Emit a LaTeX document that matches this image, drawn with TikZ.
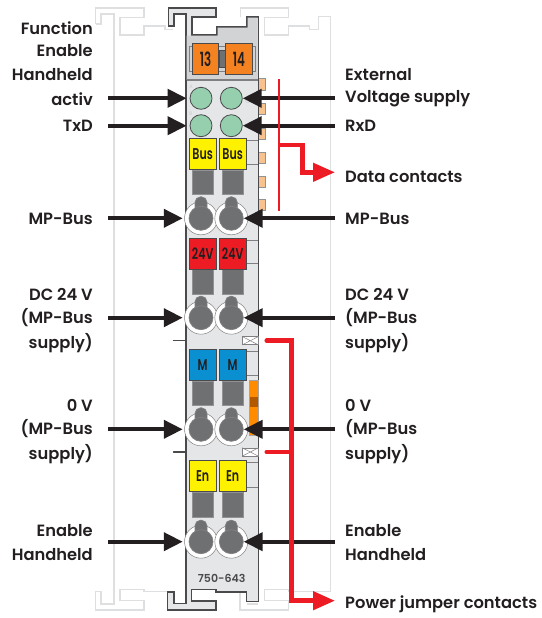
\documentclass[tikz,border=0pt]{standalone}
\usepackage{fontspec}
\setmainfont{Poppins}
\newfontfamily\lblfont{Poppins SemiBold}
\usetikzlibrary{arrows.meta}
\definecolor{bodygray}{HTML}{E5E6E8}
\definecolor{headgray}{HTML}{D2D3D5}
\definecolor{edgegray}{HTML}{4A4A4C}
\definecolor{ghostgray}{HTML}{DEDFE0}
\definecolor{squaregray}{HTML}{6F7072}
\definecolor{ledgreen}{HTML}{95CFAE}
\definecolor{tabpeach}{HTML}{F8C28E}
\definecolor{wagoorange}{HTML}{F58220}
\definecolor{busyellow}{HTML}{FFF200}
\definecolor{volred}{HTML}{ED1C24}
\definecolor{mblue}{HTML}{0A8FD0}
\definecolor{textblack}{HTML}{231F20}
\newcommand{\keytxt}[1]{\scalebox{.92}[1.3]{#1}}
\newcommand{\marktxt}[1]{\scalebox{.85}[1.4]{#1}}
\tikzset{
	lbl/.style={font=\fontsize{16.3}{18}\lblfont, text=textblack, inner sep=0pt},
	lblL/.style={lbl, anchor=east},
	lblR/.style={lbl, anchor=west},
	pointer/.style={line width=4pt, draw=textblack, -{Triangle[length=19pt,width=18pt]}},
	datared/.style={line width=4.5pt, draw=volred, line join=miter},
	ghost/.style={draw=ghostgray, line width=1.2pt},
	ledlamp/.style={circle, draw=edgegray, fill=ledgreen, line width=.8pt, minimum size=22pt, inner sep=0pt},
	ringhole/.style={circle, draw=edgegray!70, fill=white, line width=.5pt, minimum size=33pt, inner sep=0pt},
	clamphole/.style={circle, draw=edgegray!70, fill=squaregray, line width=.7pt, minimum size=24pt, inner sep=0pt},
	keybox/.style={draw=edgegray, line width=.9pt, minimum width=26.7pt, minimum height=30.7pt, inner sep=0pt, font=\fontsize{12}{12}\lblfont, text=textblack},
	squarebox/.style={draw=edgegray!60, fill=squaregray, line width=.8pt, minimum width=21.5pt, minimum height=24.5pt, inner sep=0pt},
}
\begin{document}
\begin{tikzpicture}[x=1pt,y=-1pt]
	\useasboundingbox (0,0) rectangle (541,618);
	% Ghost neighbours
	\draw[ghost] (95.7,24) -- (95.7,8) -- (144,8) -- (144,17.3) -- (120,17.3) -- (120,35) -- (144,35) -- (144,26) -- (165,26) -- (165,29.3) -- (173,29.3);
	\draw[ghost] (95.7,24) -- (101,24) -- (101,14) -- (114,14) -- (114,604) -- (101,604) -- (101,591.7) -- (95.7,591.7) -- (95.7,610) -- (144,610) -- (144,600.7) -- (120,600.7) -- (120,589.3) -- (144,589.3) -- (144,591.7) -- (168,591.7);
	\draw[ghost] (240.7,17) -- (240.7,8) -- (288.7,8) -- (288.7,17.3) -- (264.3,17.3) -- (264.3,35) -- (288.7,35) -- (288.7,26) -- (309.3,26) -- (309.3,29.3) -- (318.3,29.3) -- (318.3,16.7) -- (330.7,16.7) -- (330.7,591.7) -- (288.7,591.7) -- (288.7,589.3) -- (264.3,589.3) -- (264.3,600.7) -- (288.7,600.7) -- (288.7,610) -- (240,610) -- (240,592);
	\draw[ghost] (246.7,604) -- (258.3,604);
	% Contact tabs
	\foreach \y in {78.7,103,128,152,176,199.5}
		\draw[fill=tabpeach,draw=edgegray!60,line width=.7pt] (257,\y) rectangle ++(8,11.3);
	% Module body
	\draw[fill=bodygray,draw=edgegray,line width=1.3pt,line join=miter] (174,26) -- (168.3,26) -- (168.3,8) -- (216,8) -- (216,17) -- (192,17) -- (192,35) -- (217,35) -- (217,27) -- (247,27) -- (247,17) -- (258.3,17) -- (258.3,601.7) -- (246.7,601.7) -- (246.7,592) -- (216,592) -- (216,589.3) -- (191.7,589.3) -- (191.7,601) -- (216,601) -- (216,610) -- (167.3,610) -- (167.3,592) -- (174,592) -- (174,603.3) -- (186,603.3) -- (186,14) -- (174,14) -- cycle;
	\fill[headgray] (186.6,35.6) -- (217.6,35.6) -- (217.6,27.6) -- (247.6,27.6) -- (247.6,17.6) -- (257.7,17.6) -- (257.7,80) -- (186.6,80) -- cycle;
	\draw[edgegray!70,line width=1.2pt] (186.6,80) -- (257.7,80);
	% Marker strip
	\draw[fill=headgray,draw=edgegray!70,line width=.7pt] (189,46.7) rectangle (255.7,71);
	\draw[fill=squaregray,draw=edgegray] (218.7,50) rectangle (225.7,67);
	\node[keybox,fill=wagoorange,font=\fontsize{14}{14}\lblfont] (mark13) at (205.5,59.3) {\marktxt{13}};
	\node[keybox,fill=wagoorange,font=\fontsize{14}{14}\lblfont] (mark14) at (239,59.3) {\marktxt{14}};
	% Row lines
	\foreach \y in {140,164,240,263,351,375,462,487}
		\draw[edgegray!70,line width=.7pt] (246,\y) -- (257.7,\y);
	% Keys and squares
	\foreach \yk/\ys/\txt/\col/\nm in {153.7/182.5/Bus/busyellow/bus,253.7/281.7/24V/volred/vol,364.7/393.4/M/mblue/mas,476/504.9/En/busyellow/ena}{
		\node[squarebox] (\nm squareA) at (202.7,\ys) {};
		\node[squarebox] (\nm squareB) at (232.9,\ys) {};
		\node[keybox,fill=\col] (\nm keyA) at (202.7,\yk) {\keytxt{\txt}};
		\node[keybox,fill=\col] (\nm keyB) at (232.7,\yk) {\keytxt{\txt}};
	}
	% LEDs
	\node[ledlamp] (ledA) at (201,98.3) {};
	\node[ledlamp] (ledC) at (231.3,98.3) {};
	\node[ledlamp] (ledB) at (201,125.7) {};
	\node[ledlamp] (ledD) at (231.3,125.7) {};
	\node[font=\fontsize{5}{5}\selectfont,text=ghostgray!80!gray] (letA) at (191,87) {A};
	\node[font=\fontsize{5}{5}\selectfont,text=ghostgray!80!gray] (letB) at (191,114) {B};
	\node[font=\fontsize{6}{6}\selectfont,text=ghostgray!80!gray] (letC) at (247.7,101) {C};
	\node[font=\fontsize{6}{6}\selectfont,text=ghostgray!80!gray] (letD) at (246.7,126.7) {D};
	% Clamps
	\foreach \y/\nm in {218.3/bus,317.7/vol,429.3/mas,541.7/ena}{
		\node[ringhole] (\nm ringA) at (201,\y) {};
		\node[ringhole] (\nm ringB) at (231.3,\y) {};
	}
	\foreach \y/\nm in {218.3/bus,317.7/vol,429.3/mas,541.7/ena}{
		\fill[squaregray,draw=edgegray!70,line width=.7pt,rounded corners=5.5pt] (195,\y-4) -- (195,\y-21.5) -- (207,\y-21.5) -- (207,\y-4) -- cycle;
		\fill[squaregray,draw=edgegray!70,line width=.7pt,rounded corners=5.5pt] (225.3,\y-4) -- (225.3,\y-21.5) -- (237.3,\y-21.5) -- (237.3,\y-4) -- cycle;
		\node[clamphole] (\nm holeA) at (201,\y) {};
		\node[clamphole] (\nm holeB) at (231.3,\y) {};
	}
	% Orange slider
	\draw[fill=orange!90!yellow,draw=edgegray!50,line width=.5pt] (249.3,380.7) rectangle (258,435);
	\fill[orange!70!black] (249.8,397) rectangle (257.7,407);
	% Jumper boxes and notches
	\foreach \y/\nm in {340.7/jumpA,452/jumpB}{
		\draw[edgegray,line width=1.2pt,line cap=round] (173.5,\y) -- (185,\y);
		\node[draw=edgegray!70,fill=white,line width=.6pt,minimum width=16pt,minimum height=8pt,inner sep=0pt] (\nm) at (250.3,\y) {};
		\draw[edgegray!70,line width=.5pt] (\nm.north west) -- (\nm.south east) (\nm.south west) -- (\nm.north east);
	}
	% Type number
	\node[font=\fontsize{11}{11}\lblfont,text=edgegray] (typeno) at (221.7,578.3) {750-643};
	% Labels left
	\node[lblL] (fnc) at (93,28) {Function};
	\node[lblL] (enb) at (93,51) {Enable};
	\node[lblL] (hhd) at (93,75) {Handheld};
	\node[lblL] (act) at (93,99) {activ};
	\node[lblL] (txd) at (93,126) {TxD};
	\node[lblL] (mpL) at (93,219) {MP-Bus};
	\node[lblL] (dcL) at (93,294) {DC 24 V};
	\node[lblL] (dcLb) at (93,318) {(MP-Bus};
	\node[lblL] (dcLc) at (93,343) {supply)};
	\node[lblL] (zeL) at (93,405) {0 V};
	\node[lblL] (zeLb) at (93,429) {(MP-Bus};
	\node[lblL] (zeLc) at (93,454) {supply)};
	\node[lblL] (enL) at (93,531) {Enable};
	\node[lblL] (enLb) at (93,555) {Handheld};
	% Labels right
	\node[lblR] (ext) at (345,75) {External};
	\node[lblR] (vsp) at (345,99) {Voltage supply};
	\node[lblR] (rxd) at (345,126) {RxD};
	\node[lblR] (dat) at (345,177) {Data contacts};
	\node[lblR] (mpR) at (345,219) {MP-Bus};
	\node[lblR] (dcR) at (345,294) {DC 24 V};
	\node[lblR] (dcRb) at (345,318) {(MP-Bus};
	\node[lblR] (dcRc) at (345,343) {supply)};
	\node[lblR] (zeR) at (345,405) {0 V};
	\node[lblR] (zeRb) at (345,429) {(MP-Bus};
	\node[lblR] (zeRc) at (345,454) {supply)};
	\node[lblR] (enR) at (345,531) {Enable};
	\node[lblR] (enRb) at (345,555) {Handheld};
	\node[lblR] (pwr) at (345,604) {Power jumper contacts};
	% Black pointers
	\draw[pointer] ([xshift=15pt]act.east |- ledA) -- ([xshift=-3pt]ledA.west);
	\draw[pointer] ([xshift=15pt]txd.east |- ledB) -- ([xshift=-3pt]ledB.west);
	\draw[pointer] ([xshift=-10pt]vsp.west |- ledC) -- (ledC.east);
	\draw[pointer] ([xshift=-10pt]rxd.west |- ledD) -- (ledD.east);
	\draw[pointer] ([xshift=15pt]mpL.east |- busringA) -- ([xshift=-1.5pt]busringA.west);
	\draw[pointer] ([xshift=-10pt]mpR.west |- busholeB) -- (busholeB.east);
	\draw[pointer] ([xshift=15pt]dcLb.east |- volringA) -- ([xshift=-1.5pt]volringA.west);
	\draw[pointer] ([xshift=-10pt]dcRb.west |- volholeB) -- (volholeB.east);
	\draw[pointer] ([xshift=15pt]zeLb.east |- masringA) -- ([xshift=-1.5pt]masringA.west);
	\draw[pointer] ([xshift=-10pt]zeRb.west |- masholeB) -- (masholeB.east);
	\draw[pointer] ([xshift=15pt]enLb.east |- enaringA) -- ([xshift=-1.5pt]enaringA.west);
	\draw[pointer] ([xshift=-10pt]enRb.west |- enaholeB) -- (enaholeB.east);
	% Red contact lines
	\coordinate (dataTop) at (279.3,79.3);
	\coordinate (dataBot) at (279.3,210.7);
	\coordinate (dataFork) at (279.3,145);
	\draw[draw=volred,line width=2pt] (dataTop) -- (dataBot);
	\draw[datared,-{Triangle[length=22pt,width=18pt]}] (dataFork) -| (302.7,172.3) -- ([xshift=-10pt]dat.west |- 0,172.3);
	\draw[datared,line cap=round,-{Triangle[length=22pt,width=18pt]}] (266.7,340.7) -| (291.7,600.7) -- ([xshift=-10pt]pwr.west |- 0,600.7);
	\draw[datared,line cap=round] (266.7,452) -- (291.7,452);
\end{tikzpicture}
\end{document}
